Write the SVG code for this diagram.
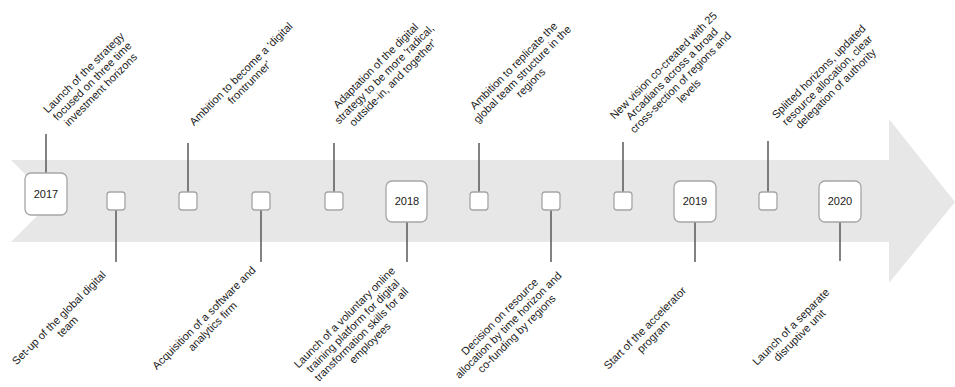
<svg xmlns="http://www.w3.org/2000/svg" width="955" height="387" viewBox="0 0 955 387">
<style>
.band{fill:#E7E7E7}
.sm{fill:#fff;stroke:#A6A6A6;stroke-width:1.3}
.yr{fill:#fff;stroke:#A6A6A6;stroke-width:1.3}
.yt{font-family:"Liberation Sans",Arial,sans-serif;font-size:11px;fill:#1a1a1a;text-anchor:middle}
.lb{font-family:"Liberation Sans",Arial,sans-serif;font-size:11px;fill:#1a1a1a;text-anchor:middle}
.cn line{stroke:#4D4D4D;stroke-width:1.4}
</style>
<rect width="955" height="387" fill="#fff"/>
<polygon class="band" points="11,160 889,160 889,119 955,202 889,283 889,242 11,242 52,201"/>
<g id="connectors" class="cn">
<line x1="46" y1="134" x2="46" y2="173"/>
<line x1="188" y1="143" x2="188" y2="192"/>
<line x1="334" y1="143" x2="334" y2="192"/>
<line x1="479" y1="143" x2="479" y2="192"/>
<line x1="623" y1="142" x2="623" y2="192"/>
<line x1="768" y1="141" x2="768" y2="192"/>
<line x1="116" y1="210" x2="116" y2="262"/>
<line x1="261" y1="210" x2="261" y2="262"/>
<line x1="407" y1="222" x2="407" y2="262"/>
<line x1="551" y1="210" x2="551" y2="262"/>
<line x1="695" y1="222" x2="695" y2="262"/>
<line x1="840" y1="222" x2="840" y2="261"/>
</g>
<g id="y2017"><rect class="yr" x="25" y="173" width="42" height="42" rx="6"/><text class="yt" x="46" y="198">2017</text></g>
<g id="y2018"><rect class="yr" x="386" y="181" width="41" height="41" rx="6"/><text class="yt" x="407" y="205">2018</text></g>
<g id="y2019"><rect class="yr" x="674" y="181" width="42" height="41" rx="6"/><text class="yt" x="695" y="205">2019</text></g>
<g id="y2020"><rect class="yr" x="819" y="181" width="42" height="41" rx="6"/><text class="yt" x="840" y="205">2020</text></g>
<g id="n1"><rect class="sm" x="107" y="192" width="18" height="18" rx="3"/></g>
<g id="n2"><rect class="sm" x="179" y="192" width="18" height="18" rx="3"/></g>
<g id="n3"><rect class="sm" x="252" y="192" width="18" height="18" rx="3"/></g>
<g id="n4"><rect class="sm" x="325" y="192" width="18" height="18" rx="3"/></g>
<g id="n5"><rect class="sm" x="470" y="192" width="18" height="18" rx="3"/></g>
<g id="n6"><rect class="sm" x="542" y="192" width="18" height="18" rx="3"/></g>
<g id="n7"><rect class="sm" x="614" y="192" width="18" height="18" rx="3"/></g>
<g id="n8"><rect class="sm" x="759" y="192" width="18" height="18" rx="3"/></g>
<g id="labels">
<g id="t1" transform="translate(92,81) rotate(-45)"><text class="lb"><tspan x="0" y="-8">Launch of the strategy</tspan><tspan x="0" y="4">focused on three time</tspan><tspan x="0" y="16">investment horizons</tspan></text></g>
<g id="t2" transform="translate(245,78) rotate(-45)"><text class="lb"><tspan x="0" y="-2">Ambition to become a 'digital</tspan><tspan x="0" y="10">frontrunner'</tspan></text></g>
<g id="t3" transform="translate(384,74) rotate(-45)"><text class="lb"><tspan x="0" y="-8">Adaptation of the digital</tspan><tspan x="0" y="4">strategy to be more 'radical,</tspan><tspan x="0" y="16">outside-in, and together'</tspan></text></g>
<g id="t4" transform="translate(522,74) rotate(-45)"><text class="lb"><tspan x="0" y="-8">Ambition to replicate the</tspan><tspan x="0" y="4">global team structure in the</tspan><tspan x="0" y="16">regions</tspan></text></g>
<g id="t5" transform="translate(676,78) rotate(-45)"><text class="lb"><tspan x="0" y="-14">New vision co-created with 25</tspan><tspan x="0" y="-2">Arcadians across a broad</tspan><tspan x="0" y="10">cross-section of regions and</tspan><tspan x="0" y="22">levels</tspan></text></g>
<g id="t6" transform="translate(827,80) rotate(-45)"><text class="lb"><tspan x="0" y="-8">Splitted horizons, updated</tspan><tspan x="0" y="4">resource allocation, clear</tspan><tspan x="0" y="16">delegation of authority</tspan></text></g>
<g id="b1" transform="translate(63,322) rotate(-45)"><text class="lb"><tspan x="0" y="-2">Set-up of the global digital</tspan><tspan x="0" y="10">team</tspan></text></g>
<g id="b2" transform="translate(208,322) rotate(-45)"><text class="lb"><tspan x="0" y="-2">Acquisition of a software and</tspan><tspan x="0" y="10">analytics firm</tspan></text></g>
<g id="b3" transform="translate(357,330) rotate(-45)"><text class="lb"><tspan x="0" y="-14">Launch of a voluntary online</tspan><tspan x="0" y="-2">training platform for digital</tspan><tspan x="0" y="10">transformation skills for all</tspan><tspan x="0" y="22">employees</tspan></text></g>
<g id="b4" transform="translate(508,325) rotate(-45)"><text class="lb"><tspan x="0" y="-8">Decision on resource</tspan><tspan x="0" y="4">allocation by time horizon and</tspan><tspan x="0" y="16">co-funding by regions</tspan></text></g>
<g id="b5" transform="translate(649,332) rotate(-45)"><text class="lb"><tspan x="0" y="-2">Start of the accelerator</tspan><tspan x="0" y="10">program</tspan></text></g>
<g id="b6" transform="translate(795,331) rotate(-45)"><text class="lb"><tspan x="0" y="-2">Launch of a separate</tspan><tspan x="0" y="10">disruptive unit</tspan></text></g>
</g>
</svg>
